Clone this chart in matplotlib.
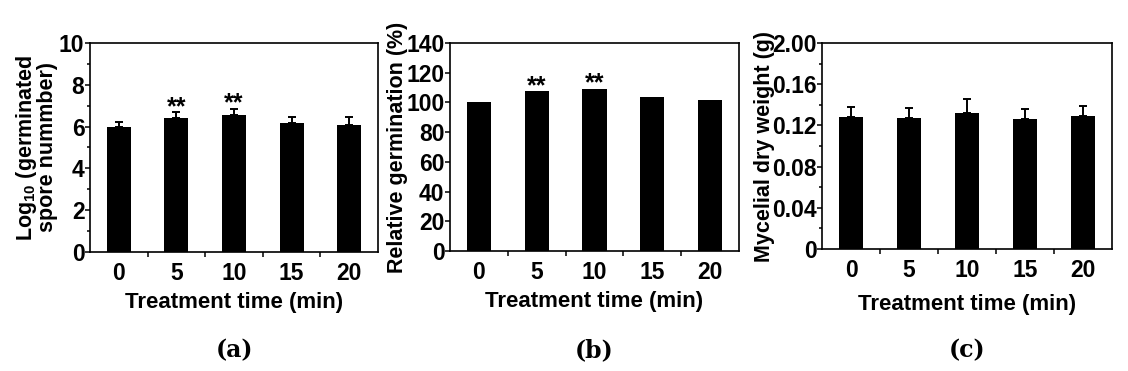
import numpy as np
import matplotlib
matplotlib.use('Agg')
import matplotlib.pyplot as plt
from matplotlib.ticker import FixedLocator, MultipleLocator

plt.rcParams['font.family'] = ['Liberation Sans', 'DejaVu Sans']
plt.rcParams['font.weight'] = 'bold'
plt.rcParams['mathtext.fontset'] = 'custom'
plt.rcParams['mathtext.rm'] = 'Liberation Sans:bold'
plt.rcParams['mathtext.bf'] = 'Liberation Sans:bold'
plt.rcParams['mathtext.default'] = 'bf'

times = ['0', '5', '10', '15', '20']

spore_log = [5.97, 6.43, 6.54, 6.19, 6.06]
spore_err = [0.24, 0.27, 0.32, 0.27, 0.40]
spore_sig = ['', '**', '**', '', '']

rel_germ = [100.0, 107.7, 109.3, 103.7, 101.9]
rel_sig = ['', '**', '**', '', '']

dry_weight = [0.1277, 0.1268, 0.1316, 0.1261, 0.1290]
dry_err = [0.0103, 0.0103, 0.0142, 0.0097, 0.0097]

ylab_a = 'Log$_{10}$ (germinated\nspore nummber)'
ylab_b = 'Relative germination (%)'
ylab_c = 'Mycelial dry weight (g)'

yt_a = [0, 2, 4, 6, 8, 10]
yt_b = [0, 20, 40, 60, 80, 100, 120, 140]
yt_c = [0, 0.04, 0.08, 0.12, 0.16, 0.20]
ytl_c = ['0', '0.04', '0.08', '0.12', '0.16', '2.00']

fig = plt.figure(figsize=(11.28, 3.71), dpi=100)
W, H = 1128, 371


def panel(box, vals, err, sig, yticks, yticklabels, ymax, yminor, ylabel, lab_x, xlab_pad, tag):
    l, r, t, b = box
    ax = fig.add_axes([l / W, 1 - b / H, (r - l) / W, (b - t) / H])
    x = np.arange(len(vals))
    ax.bar(x, vals, width=0.42, color='black', zorder=2)
    if err is not None:
        ax.errorbar(x, vals, yerr=[np.zeros(len(vals)), err], fmt='none',
                    ecolor='black', elinewidth=1.4, capsize=3, capthick=1.4, zorder=1)
    tops = np.array(vals) + (np.array(err) if err is not None else 0)
    for xi, top, s in zip(x, tops, sig):
        if s:
            ax.annotate(s, (xi, top), xytext=(0, -5), textcoords='offset points',
                        ha='center', va='bottom', fontsize=18, fontweight='bold')
    ax.set_xlim(-0.5, len(vals) - 0.5)
    ax.set_ylim(0, ymax)
    ax.set_xticks(x)
    ax.set_xticklabels(times)
    ax.xaxis.set_minor_locator(FixedLocator(np.arange(0.5, len(vals) - 0.5, 1)))
    ax.tick_params(axis='x', which='major', length=0, pad=7.5, labelsize=16.5)
    ax.tick_params(axis='x', which='minor', length=3.5, width=1.1, direction='out')
    ax.set_yticks(yticks)
    ax.set_yticklabels(yticklabels)
    if yminor:
        ax.yaxis.set_minor_locator(MultipleLocator(yminor))
        ax.tick_params(axis='y', which='minor', length=2.5, width=1.1)
    ax.tick_params(axis='y', which='major', length=3.5, width=1.1, pad=0.5, labelsize=16.5)
    for sp in ax.spines.values():
        sp.set_linewidth(1.2)
    ax.set_xlabel('Treatment time (min)', fontsize=16, fontweight='bold', labelpad=xlab_pad)
    ax.set_ylabel(ylabel, fontsize=15.5, fontweight='bold', linespacing=0.9)
    ax.yaxis.set_label_coords(lab_x, 0.5)
    fig.text((l + r) / 2 / W, 1 - 350 / H, tag, ha='center', va='center',
             fontsize=17, family='DejaVu Serif', fontweight='bold')
    return ax


panel((90, 378, 43, 252), spore_log, spore_err, spore_sig, yt_a,
      [str(v) for v in yt_a], 10, 1, ylab_a, -0.111, 5, '(a)')
panel((450, 739, 43, 251), rel_germ, None, rel_sig, yt_b,
      [str(v) for v in yt_b], 140, None, ylab_b, -0.145, 5, '(b)')
panel((822, 1112, 43, 249), dry_weight, dry_err, ['', '', '', '', ''], yt_c,
      ytl_c, 0.2, 0.02, ylab_c, -0.162, 8, '(c)')

fig.savefig('out.png', dpi=100)
